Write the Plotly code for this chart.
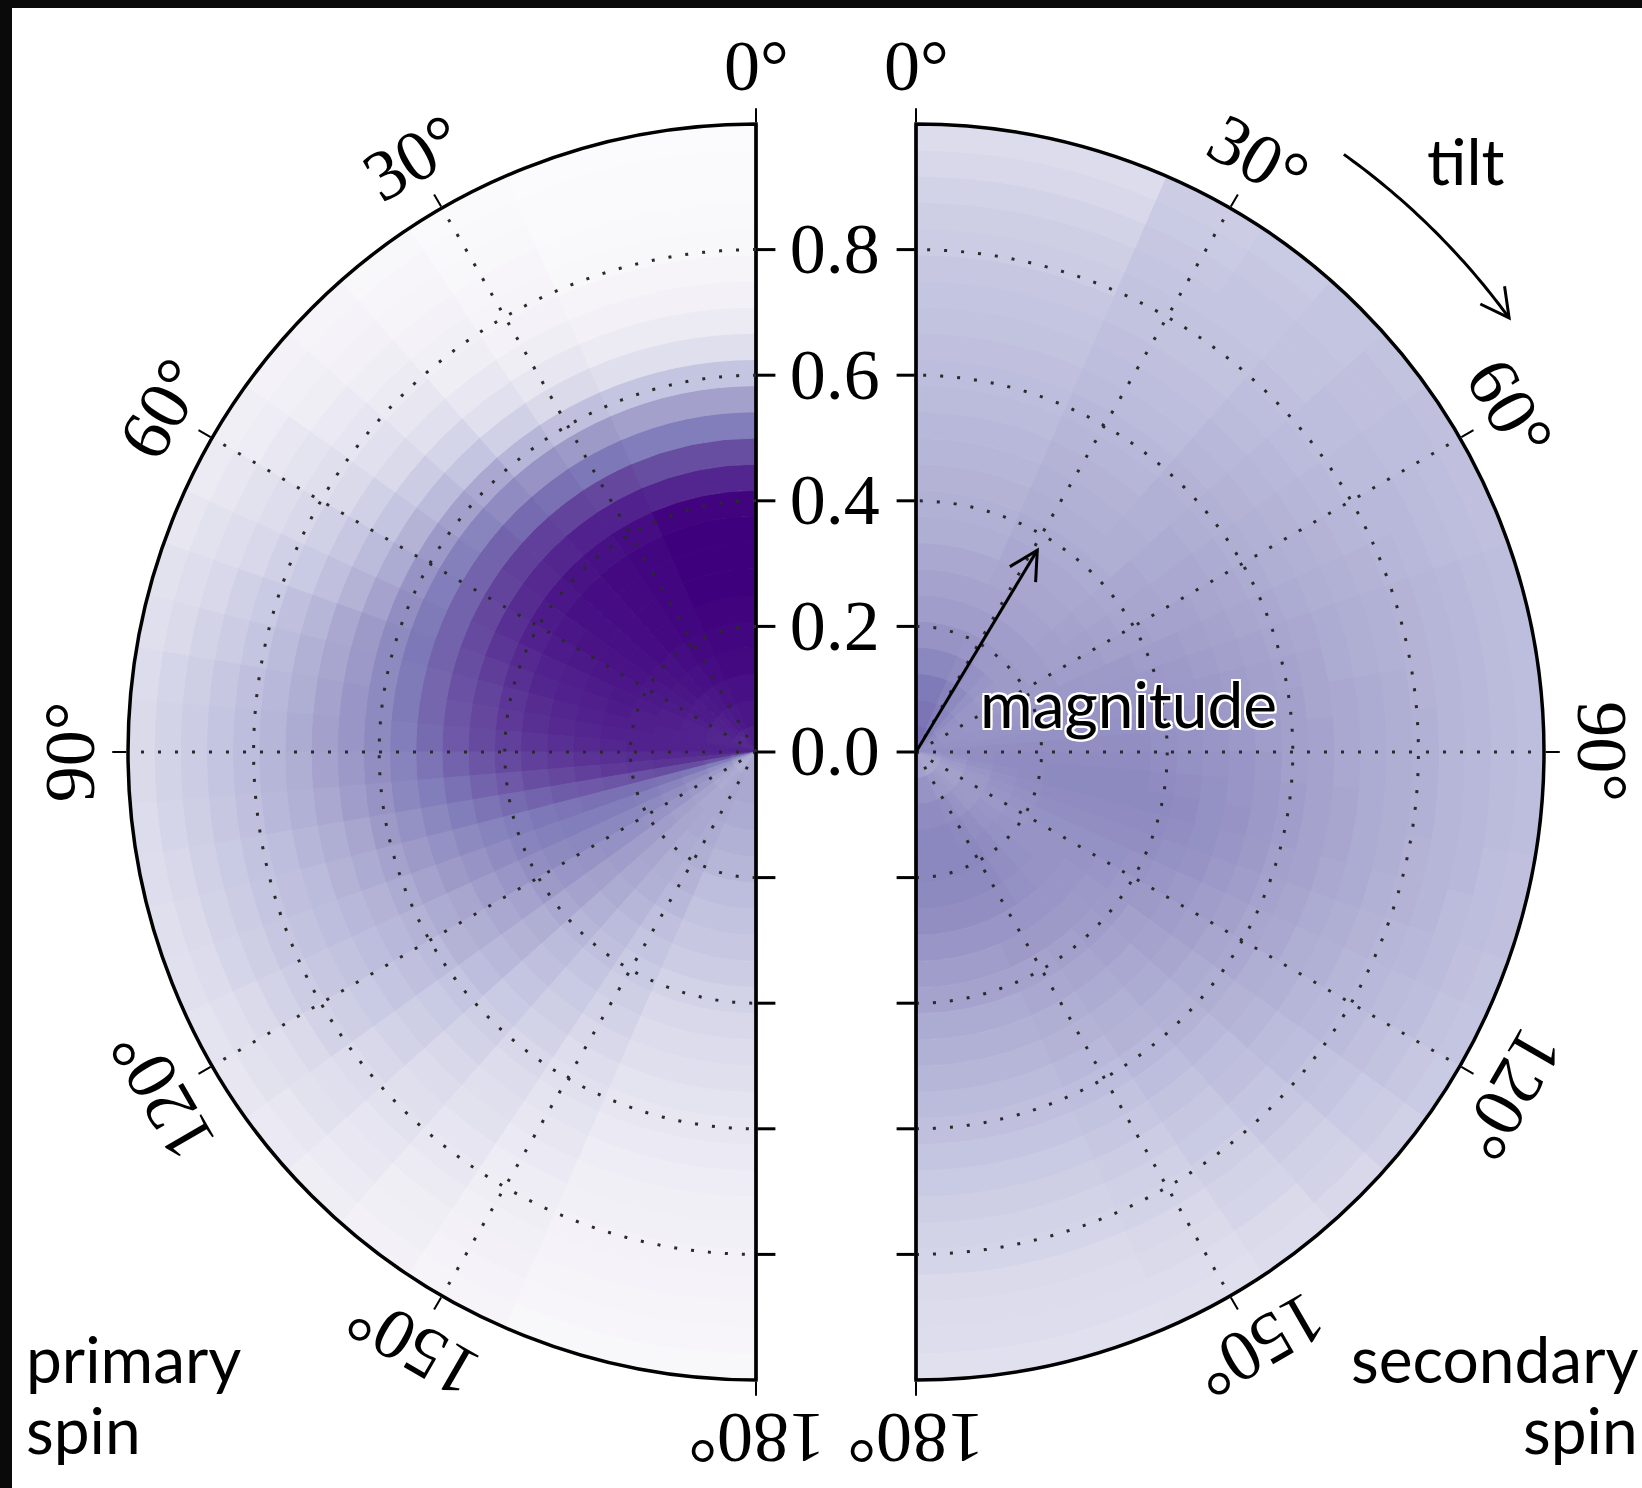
import numpy as np
import plotly.graph_objects as go
from plotly.colors import sequential

# ---------------------------------------------------------------------------
# Binned posterior density of spin magnitude and tilt (colour level 0-100).
# Bins are linear in magnitude and linear in cos(tilt).
# Each inner list is one tilt bin (0 deg -> 180 deg), running over the
# magnitude bins from 0 to 1.
# ---------------------------------------------------------------------------
N_MAG = 24
N_TILT = 24

primary_density = [
    [90, 93, 95, 97, 98, 99, 100, 100, 100, 99, 88, 76, 62, 48, 34, 22, 14, 9, 6, 4, 3, 2, 2, 1],
    [89, 92, 94, 96, 97, 98, 98, 98, 98, 96, 89, 78, 64, 50, 36, 25, 17, 12, 8, 6, 5, 4, 3, 2],
    [88, 91, 93, 95, 96, 97, 97, 97, 97, 95, 89, 79, 66, 53, 40, 29, 21, 16, 12, 10, 8, 6, 5, 4],
    [87, 90, 92, 94, 95, 96, 96, 96, 96, 94, 88, 80, 68, 56, 45, 34, 27, 21, 17, 14, 12, 9, 7, 6],
    [87, 89, 91, 93, 94, 95, 95, 95, 95, 93, 87, 80, 70, 59, 48, 38, 31, 25, 21, 18, 15, 12, 10, 8],
    [87, 89, 91, 92, 93, 94, 94, 94, 93, 91, 86, 79, 70, 61, 51, 41, 34, 29, 25, 22, 19, 16, 13, 11],
    [87, 88, 90, 91, 92, 93, 93, 92, 91, 89, 85, 78, 70, 62, 53, 44, 38, 33, 29, 26, 23, 20, 17, 14],
    [87, 88, 89, 90, 91, 92, 91, 90, 89, 87, 83, 77, 70, 63, 55, 47, 41, 36, 32, 29, 26, 23, 20, 17],
    [88, 88, 89, 90, 90, 91, 90, 89, 88, 85, 81, 76, 70, 64, 57, 50, 45, 40, 36, 32, 29, 26, 23, 20],
    [88, 88, 89, 89, 90, 90, 89, 88, 86, 83, 79, 75, 69, 63, 57, 51, 46, 42, 38, 34, 31, 28, 25, 22],
    [89, 89, 89, 89, 89, 89, 88, 87, 85, 82, 78, 74, 69, 63, 57, 52, 47, 43, 39, 36, 33, 30, 27, 24],
    [90, 89, 89, 89, 89, 88, 87, 85, 83, 80, 77, 73, 68, 62, 57, 52, 48, 44, 40, 37, 34, 31, 28, 25],
    [88, 88, 87, 87, 86, 85, 84, 82, 80, 77, 74, 70, 65, 60, 55, 51, 47, 43, 40, 37, 34, 31, 28, 25],
    [82, 84, 84, 84, 83, 82, 80, 78, 76, 73, 70, 66, 62, 58, 53, 49, 45, 42, 39, 36, 33, 30, 27, 24],
    [70, 74, 76, 76, 75, 74, 73, 72, 70, 68, 65, 62, 58, 54, 50, 46, 43, 40, 37, 35, 32, 29, 26, 23],
    [58, 62, 64, 65, 66, 66, 66, 65, 64, 62, 60, 57, 54, 50, 47, 44, 41, 38, 36, 34, 31, 28, 25, 22],
    [50, 54, 57, 59, 61, 62, 62, 62, 61, 59, 56, 53, 50, 47, 44, 41, 39, 37, 35, 33, 30, 27, 24, 21],
    [46, 50, 53, 55, 57, 58, 58, 58, 57, 55, 52, 49, 46, 44, 41, 39, 37, 35, 33, 31, 28, 25, 22, 19],
    [44, 47, 50, 52, 53, 54, 54, 53, 52, 50, 47, 45, 43, 41, 38, 36, 34, 32, 30, 28, 25, 22, 20, 17],
    [43, 45, 47, 48, 49, 49, 49, 48, 47, 45, 43, 41, 39, 37, 34, 32, 30, 28, 26, 24, 22, 20, 17, 15],
    [42, 44, 45, 46, 46, 46, 45, 44, 42, 40, 38, 36, 34, 32, 30, 28, 26, 24, 22, 20, 18, 16, 14, 12],
    [43, 45, 45, 45, 44, 43, 42, 40, 38, 36, 34, 32, 30, 28, 26, 24, 22, 20, 18, 16, 14, 12, 11, 9],
    [45, 46, 45, 44, 43, 41, 39, 36, 34, 32, 30, 28, 26, 23, 21, 19, 17, 15, 13, 12, 10, 9, 7, 6],
    [45, 45, 44, 42, 40, 37, 35, 33, 31, 28, 26, 24, 22, 19, 17, 15, 13, 11, 10, 8, 7, 6, 5, 4],
]

secondary_density = [
    [67, 65, 63, 58, 53, 49, 47, 45, 43, 42, 41, 40, 39, 38, 37, 36, 35, 34, 33, 31, 30, 28, 26, 24],
    [64, 62, 60, 56, 52, 49, 47, 46, 45, 44, 43, 42, 41, 40, 39, 38, 37, 36, 35, 35, 34, 33, 32, 31],
    [61, 59, 57, 54, 51, 49, 47, 46, 45, 44, 43, 42, 41, 40, 39, 38, 37, 36, 35, 35, 34, 34, 33, 32],
    [58, 56, 54, 52, 50, 49, 47, 46, 45, 44, 43, 43, 42, 42, 41, 40, 39, 38, 37, 36, 35, 35, 34, 34],
    [56, 54, 52, 51, 50, 49, 48, 47, 46, 45, 45, 44, 44, 43, 42, 41, 40, 39, 38, 37, 37, 36, 36, 35],
    [55, 53, 52, 51, 50, 49, 48, 48, 47, 46, 46, 45, 45, 44, 43, 42, 41, 40, 39, 38, 38, 37, 37, 36],
    [54, 53, 52, 51, 50, 50, 49, 49, 48, 48, 47, 47, 46, 45, 44, 43, 42, 41, 40, 39, 39, 38, 37, 36],
    [54, 53, 52, 52, 51, 51, 51, 50, 50, 49, 49, 48, 47, 46, 45, 44, 43, 42, 41, 40, 39, 38, 37, 36],
    [54, 53, 53, 52, 52, 52, 52, 51, 51, 51, 50, 49, 48, 47, 46, 45, 44, 43, 42, 41, 40, 39, 38, 37],
    [54, 54, 53, 53, 53, 53, 53, 53, 52, 52, 51, 50, 49, 48, 47, 46, 44, 43, 42, 41, 40, 39, 38, 37],
    [55, 54, 54, 54, 54, 54, 54, 54, 54, 53, 52, 51, 50, 49, 48, 46, 45, 44, 43, 41, 40, 39, 38, 37],
    [55, 55, 55, 55, 55, 55, 55, 55, 55, 54, 53, 52, 51, 49, 48, 47, 45, 44, 43, 42, 40, 39, 38, 37],
    [54, 55, 55, 56, 56, 56, 56, 56, 56, 55, 54, 53, 52, 50, 48, 47, 45, 44, 43, 42, 40, 39, 38, 37],
    [52, 54, 55, 56, 56, 57, 57, 57, 57, 56, 55, 54, 52, 51, 49, 47, 46, 44, 43, 42, 40, 39, 38, 37],
    [50, 52, 54, 55, 56, 57, 57, 57, 57, 57, 56, 54, 53, 51, 49, 47, 46, 44, 43, 41, 40, 39, 37, 36],
    [48, 50, 52, 54, 55, 56, 56, 56, 56, 56, 55, 54, 52, 50, 48, 47, 45, 44, 42, 41, 40, 38, 37, 36],
    [47, 49, 51, 53, 54, 55, 55, 55, 55, 55, 54, 53, 51, 49, 47, 46, 44, 43, 41, 40, 39, 38, 36, 35],
    [46, 48, 50, 52, 53, 54, 54, 54, 54, 53, 52, 51, 49, 48, 46, 45, 43, 42, 40, 39, 38, 37, 35, 34],
    [46, 48, 50, 51, 52, 53, 53, 53, 52, 51, 50, 49, 48, 46, 45, 43, 42, 40, 39, 38, 36, 35, 33, 32],
    [46, 48, 50, 52, 53, 53, 53, 52, 51, 50, 48, 47, 46, 44, 43, 41, 40, 38, 37, 35, 34, 32, 31, 29],
    [46, 49, 51, 53, 54, 54, 53, 52, 50, 49, 47, 45, 44, 42, 41, 39, 37, 36, 34, 33, 31, 29, 28, 26],
    [46, 50, 53, 55, 56, 55, 54, 52, 50, 48, 46, 44, 42, 41, 39, 37, 35, 33, 32, 30, 28, 27, 25, 24],
    [46, 51, 55, 57, 58, 57, 55, 52, 50, 47, 45, 43, 41, 39, 37, 35, 33, 31, 29, 28, 26, 25, 23, 22],
    [48, 53, 56, 58, 58, 57, 55, 52, 49, 47, 44, 42, 40, 38, 36, 34, 32, 30, 28, 27, 25, 24, 23, 21],
]

magnitude_ticks = [0.0, 0.2, 0.4, 0.6, 0.8]
tilt_ticks = [0, 30, 60, 90, 120, 150, 180]
tilt_tick_labels = ["0°", "30°", "60°", "90°", "120°", "150°", "180°"]

# ---------------------------------------------------------------------------
# Page geometry (pixels) for the two half discs
# ---------------------------------------------------------------------------
W, H = 1642, 1488
R_PX = 628
CY = 752
CX_PRIMARY, CX_SECONDARY = 756, 916

SERIF = "Liberation Serif"
SANS = "Lato"
GRID_COLOR = "#2a2a2a"
GRID_DASH = "3px,14px"
GRID_WIDTH = 2.6

purples = sequential.Purples

mag_edges = np.linspace(0.0, 1.0, N_MAG + 1)
tilt_edges = np.degrees(np.arccos(np.linspace(1.0, -1.0, N_TILT + 1)))


def px(x, y):
    """Pixel position -> paper fractions."""
    return x / W, 1.0 - y / H


def disk_bars(density, subplot):
    theta, width, base, dr, color = [], [], [], [], []
    for j in range(N_TILT):
        for i in range(N_MAG):
            theta.append(0.5 * (tilt_edges[j] + tilt_edges[j + 1]))
            width.append(tilt_edges[j + 1] - tilt_edges[j])
            base.append(mag_edges[i])
            dr.append(mag_edges[i + 1] - mag_edges[i])
            color.append(density[j][i])
    return go.Barpolar(
        r=dr, base=base, theta=theta, width=width,
        marker=dict(
            color=color, colorscale=purples, cmin=0, cmax=100,
            line=dict(color=color, colorscale=purples, cmin=0, cmax=100, width=1),
        ),
        subplot=subplot, hoverinfo="skip", showlegend=False,
    )


def dummy(subplot):
    return go.Scatterpolar(r=[0], theta=[0], mode="markers",
                           marker=dict(opacity=0, size=1), subplot=subplot,
                           hoverinfo="skip", showlegend=False)


fig = go.Figure()
fig.add_trace(disk_bars(primary_density, "polar"))
fig.add_trace(disk_bars(secondary_density, "polar2"))
fig.add_trace(dummy("polar3"))
fig.add_trace(dummy("polar4"))

y_dom = [1 - (CY + R_PX) / H, 1 - (CY - R_PX) / H]
dom_primary = dict(x=[(CX_PRIMARY - R_PX) / W, CX_PRIMARY / W], y=y_dom)
dom_secondary = dict(x=[CX_SECONDARY / W, (CX_SECONDARY + R_PX) / W], y=y_dom)


def main_polar(domain, sector, direction, side, labels):
    return dict(
        domain=domain, sector=sector, bgcolor="white",
        angularaxis=dict(
            rotation=90, direction=direction, tickvals=tilt_ticks,
            ticks="outside", ticklen=14, tickwidth=2, tickcolor="black",
            showticklabels=False, showgrid=False,
            showline=True, linecolor="black", linewidth=3.5,
        ),
        radialaxis=dict(
            range=[0, 1], angle=90, side=side, tickvals=magnitude_ticks,
            ticks="outside", ticklen=18, tickwidth=2.5, tickcolor="black",
            showline=True, linecolor="black", linewidth=2.8, showgrid=False,
            showticklabels=labels, tickformat=".1f", tickangle=90,
            tickfont=dict(family=SERIF, size=72, color="black"),
        ),
    )


def grid_polar(domain, sector, direction, side):
    return dict(
        domain=domain, sector=sector, bgcolor="rgba(0,0,0,0)",
        angularaxis=dict(
            rotation=90, direction=direction, tickvals=tilt_ticks[1:-1],
            ticks="", showticklabels=False, showline=False,
            showgrid=True, gridcolor=GRID_COLOR, gridwidth=GRID_WIDTH, griddash=GRID_DASH,
        ),
        radialaxis=dict(
            range=[0, 1], angle=270, side=side, tickvals=magnitude_ticks[1:],
            ticks="outside", ticklen=18, tickwidth=2.5, tickcolor="black",
            showline=True, linecolor="black", linewidth=2.8,
            showticklabels=False,
            showgrid=True, gridcolor=GRID_COLOR, gridwidth=GRID_WIDTH, griddash=GRID_DASH,
        ),
    )


fig.update_layout(
    width=W, height=H, autosize=False,
    margin=dict(l=0, r=0, t=0, b=0),
    paper_bgcolor="white", showlegend=False,
    polar=main_polar(dom_primary, [90, 270], "counterclockwise", "clockwise", True),
    polar2=main_polar(dom_secondary, [-90, 90], "clockwise", "counterclockwise", False),
    polar3=grid_polar(dom_primary, [90, 270], "counterclockwise", "counterclockwise"),
    polar4=grid_polar(dom_secondary, [-90, 90], "clockwise", "clockwise"),
)

annotations = []

# Tilt labels around the rims, turned with the angle
LABEL_R = 1.092 * R_PX
for ang, lab in zip(tilt_ticks, tilt_tick_labels):
    a = np.radians(ang)
    for cx, sgn in ((CX_PRIMARY, -1), (CX_SECONDARY, 1)):
        x, y = px(cx + sgn * LABEL_R * np.sin(a), CY - LABEL_R * np.cos(a))
        annotations.append(dict(
            x=x, y=y, xref="paper", yref="paper", text=lab, showarrow=False,
            xanchor="center", yanchor="middle", textangle=sgn * ang,
            font=dict(family=SERIF, size=72, color="black"),
        ))

# Side captions
for text, x_px, y_px, anchor in (
    ("primary", 24, 1358, "left"), ("spin", 24, 1429, "left"),
    ("secondary", 1640, 1358, "right"), ("spin", 1640, 1429, "right"),
):
    x, y = px(x_px, y_px)
    annotations.append(dict(
        x=x, y=y, xref="paper", yref="paper", text=text, showarrow=False,
        xanchor=anchor, yanchor="middle",
        font=dict(family=SANS, size=64, color="black"),
    ))

x, y = px(1466, 160)
annotations.append(dict(x=x, y=y, xref="paper", yref="paper", text="tilt",
                        showarrow=False, xanchor="center", yanchor="middle",
                        font=dict(family=SANS, size=64, color="black")))

halo = ", ".join(f"{dx}px {dy}px 0 white" for dx, dy in
                 ((2, 0), (-2, 0), (0, 2), (0, -2), (2, 2), (-2, -2), (2, -2), (-2, 2)))
x, y = px(1128, 703)
annotations.append(dict(x=x, y=y, xref="paper", yref="paper", text="magnitude",
                        showarrow=False, xanchor="center", yanchor="middle",
                        font=dict(family=SANS, size=64, color="black", shadow=halo)))

fig.update_layout(annotations=annotations)


# Arrows: magnitude (straight) and tilt (arc) with open heads
def path_from(points):
    parts = []
    for k, (xp, yp) in enumerate(points):
        x, y = px(xp, yp)
        parts.append(("M" if k == 0 else "L") + f"{x:.5f},{y:.5f}")
    return " ".join(parts)


def open_head(tip, direction, length=32, half_angle=28):
    d = np.asarray(direction, float)
    d /= np.linalg.norm(d)
    arms = []
    for s in (1, -1):
        t = np.radians(s * half_angle)
        rot = np.array([d[0] * np.cos(t) - d[1] * np.sin(t), d[0] * np.sin(t) + d[1] * np.cos(t)])
        arms.append(tuple(np.asarray(tip) - length * rot))
    return [arms[0], tuple(tip), arms[1]]


line_style = dict(color="black", width=3)
shapes = []

mag_tilt = np.radians(31)
mag_len = 0.375 * R_PX
start = (CX_SECONDARY, CY)
tip = (CX_SECONDARY + mag_len * np.sin(mag_tilt), CY - mag_len * np.cos(mag_tilt))
shapes.append(dict(type="path", xref="paper", yref="paper", path=path_from([start, tip]), line=line_style))
shapes.append(dict(type="path", xref="paper", yref="paper",
                   path=path_from(open_head(tip, (tip[0] - start[0], tip[1] - start[1]))), line=line_style))

ARC_R = 735
arc_t = np.radians(np.linspace(35.6, 53.8, 40))
arc_pts = [(CX_SECONDARY + ARC_R * np.sin(t), CY - ARC_R * np.cos(t)) for t in arc_t]
shapes.append(dict(type="path", xref="paper", yref="paper", path=path_from(arc_pts), line=line_style))
t_end = arc_t[-1]
shapes.append(dict(type="path", xref="paper", yref="paper",
                   path=path_from(open_head(arc_pts[-1], (np.cos(t_end), np.sin(t_end)))), line=line_style))

# Dark frame along the top and left edges
shapes.append(dict(type="rect", xref="paper", yref="paper", x0=0, x1=12 / W, y0=0, y1=1,
                   fillcolor="#0a0a0a", line=dict(width=0), layer="above"))
shapes.append(dict(type="rect", xref="paper", yref="paper", x0=0, x1=1, y0=1 - 8 / H, y1=1,
                   fillcolor="#0a0a0a", line=dict(width=0), layer="above"))

fig.update_layout(shapes=shapes)

fig.write_html("out.html")
